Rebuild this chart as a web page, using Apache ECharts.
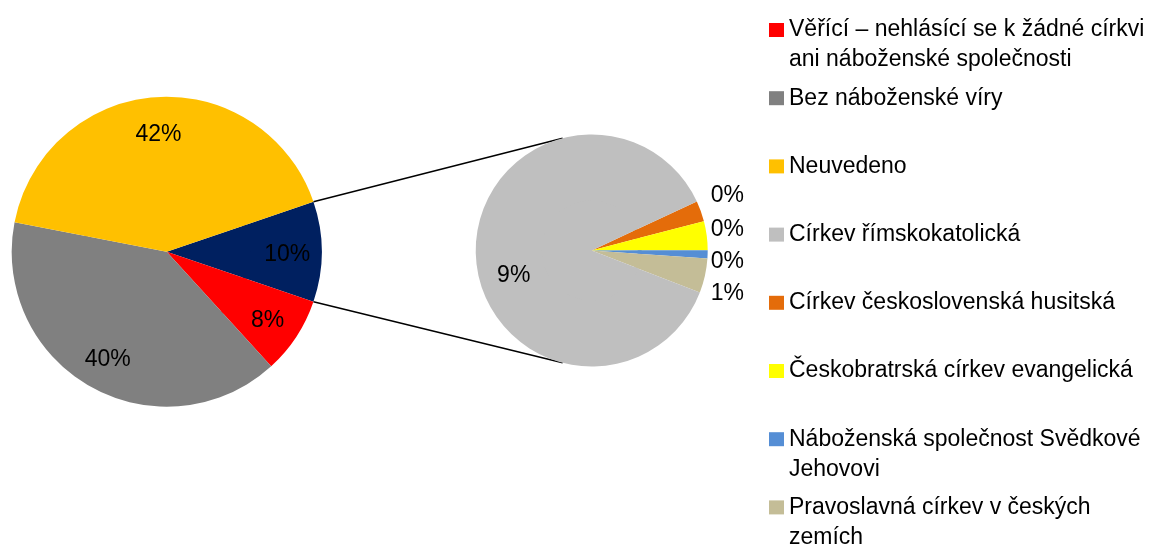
<!DOCTYPE html>
<html>
<head>
<meta charset="utf-8" />
<title>Náboženská víra – koláč z koláče</title>
<style>
  html, body { margin: 0; padding: 0; background: #fff; }
  #main { width: 1154px; height: 546px; }
</style>
</head>
<body>
<script src="https://cdn.jsdelivr.net/npm/echarts@6/dist/echarts.min.js"></script>
<div id="main"></div>
<script>
  // main pie, % of population
  var mainNames = ["Věřící – nehlásící se k žádné církvi ani náboženské společnosti", "Bez náboženské víry", "Neuvedeno"];
  var mainValues = [8.0, 39.8, 41.7];
  var mainColors = ["#FF0000", "#808080", "#FFC000"];

  // churches, split off into the second pie
  var otherNames = ["Církev římskokatolická", "Církev československá husitská", "Českobratrská církev evangelická", "Náboženská společnost Svědkové Jehovovi", "Pravoslavná církev v českých zemích"];
  var otherValues = [9.1, 0.3, 0.42, 0.12, 0.5];
  var otherColors = ["#BFBFBF", "#E46C0A", "#FFFF00", "#558ED5", "#C4BD97"];
  var otherName = "Ostatní";
  var otherColor = "#002060";

  // legend text, wrapped like the original
  var legendNames = mainNames.concat(otherNames);
  var legendText = [
    "Věřící – nehlásící se k žádné církvi\nani náboženské společnosti",
    "Bez náboženské víry",
    "Neuvedeno",
    "Církev římskokatolická",
    "Církev československá husitská",
    "Českobratrská církev evangelická",
    "Náboženská společnost Svědkové\nJehovovi",
    "Pravoslavná církev v českých\nzemích"
  ];

  var FONT = "Liberation Sans";
  var LEGEND_SIZE = 23;
  var otherTotal = otherValues.reduce(function (a, b) { return a + b; }, 0);
  var grandTotal = mainValues.reduce(function (a, b) { return a + b; }, 0) + otherTotal;

  function pct(p) { return Math.round(p.value / grandTotal * 100) + "%"; }

  // geometry
  var c1 = [166.7, 251.7], r1 = 155;
  var c2 = [591.7, 250.5], r2 = 116;
  var mainStart = otherTotal / grandTotal * 180;   // split slice centred at 3 o'clock
  var smallStart = 25;                              // second pie: small slices start here

  var mainData = [{ name: otherName, value: otherTotal, itemStyle: { color: otherColor } }];
  mainValues.forEach(function (v, i) {
    mainData.push({ name: mainNames[i], value: v, itemStyle: { color: mainColors[i] } });
  });

  // small slices first, the large one last
  var order = [1, 2, 3, 4, 0];
  var subData = order.map(function (i) {
    var big = otherValues[i] / otherTotal > 0.5;
    return {
      name: otherNames[i], value: otherValues[i], itemStyle: { color: otherColors[i] },
      label: big ? { position: "inside", offset: [6, 22] } : { position: "outside" }
    };
  });

  var labelStyle = { fontFamily: FONT, fontSize: 23, color: "#000", formatter: pct };

  // connector lines between the split slice and the second pie
  var a = mainStart * Math.PI / 180;
  var b = 104.5 * Math.PI / 180;
  var graphics = [1, -1].map(function (s) {
    return {
      type: "line", z: 1,
      shape: {
        x1: c1[0] + r1 * Math.cos(a), y1: c1[1] - s * r1 * Math.sin(a),
        x2: c2[0] + r2 * Math.cos(b), y2: c2[1] - s * r2 * Math.sin(b)
      },
      style: { stroke: "#000", lineWidth: 1.5 }
    };
  });

  // one legend per entry so the rows keep Excel's even spacing;
  // wrapped continuation lines are drawn as text under the first line
  var legends = [];
  legendNames.forEach(function (name, i) {
    var lines = legendText[i].split("\n");
    var lineY = 30 + 68.2 * i;
    legends.push({
      data: [name], orient: "vertical", left: 769, top: lineY - 15,
      padding: 0, itemWidth: 15, itemHeight: 14, icon: "rect", selectedMode: false,
      formatter: function () { return lines[0]; },
      textStyle: { fontFamily: FONT, fontSize: LEGEND_SIZE, color: "#000", lineHeight: 30 }
    });
    lines.slice(1).forEach(function (t, k) {
      graphics.push({
        type: "text", x: 789, y: lineY + 30 * (k + 1),
        style: { text: t, fontFamily: FONT, fontSize: LEGEND_SIZE, fill: "#000", verticalAlign: "middle" }
      });
    });
  });

  var chart = echarts.init(document.getElementById("main"));
  chart.setOption({
    animation: false,
    backgroundColor: "#fff",
    legend: legends,
    graphic: graphics,
    series: [
      {
        type: "pie", z: 2, center: c1, radius: [80, r1], startAngle: mainStart, clockwise: true,
        data: mainData, itemStyle: { borderWidth: 0 }, silent: true,
        label: Object.assign({ show: true, position: "inside", offset: [0, 3] }, labelStyle), labelLine: { show: false }
      },
      {
        type: "pie", z: 3, center: c1, radius: [0, 84], startAngle: mainStart, clockwise: true,
        data: mainData, itemStyle: { borderWidth: 0 }, silent: true,
        label: { show: false }, labelLine: { show: false }
      },
      {
        type: "pie", z: 2, center: c2, radius: [46, r2], startAngle: smallStart, clockwise: true,
        data: subData, itemStyle: { borderWidth: 0 }, silent: true,
        avoidLabelOverlap: true,
        label: Object.assign({ show: true, lineHeight: 30 }, labelStyle),
        labelLine: { show: false, length: 45, length2: 0 },
        // outside labels line up just right of the second pie
        labelLayout: function (p) {
          return p.labelRect.x > c2[0] ? { x: c2[0] + r2 + 3, align: "left" } : {};
        }
      },
      {
        type: "pie", z: 3, center: c2, radius: [0, 50], startAngle: smallStart, clockwise: true,
        data: subData, itemStyle: { borderWidth: 0 }, silent: true,
        label: { show: false }, labelLine: { show: false }
      }
    ]
  });
</script>
</body>
</html>
